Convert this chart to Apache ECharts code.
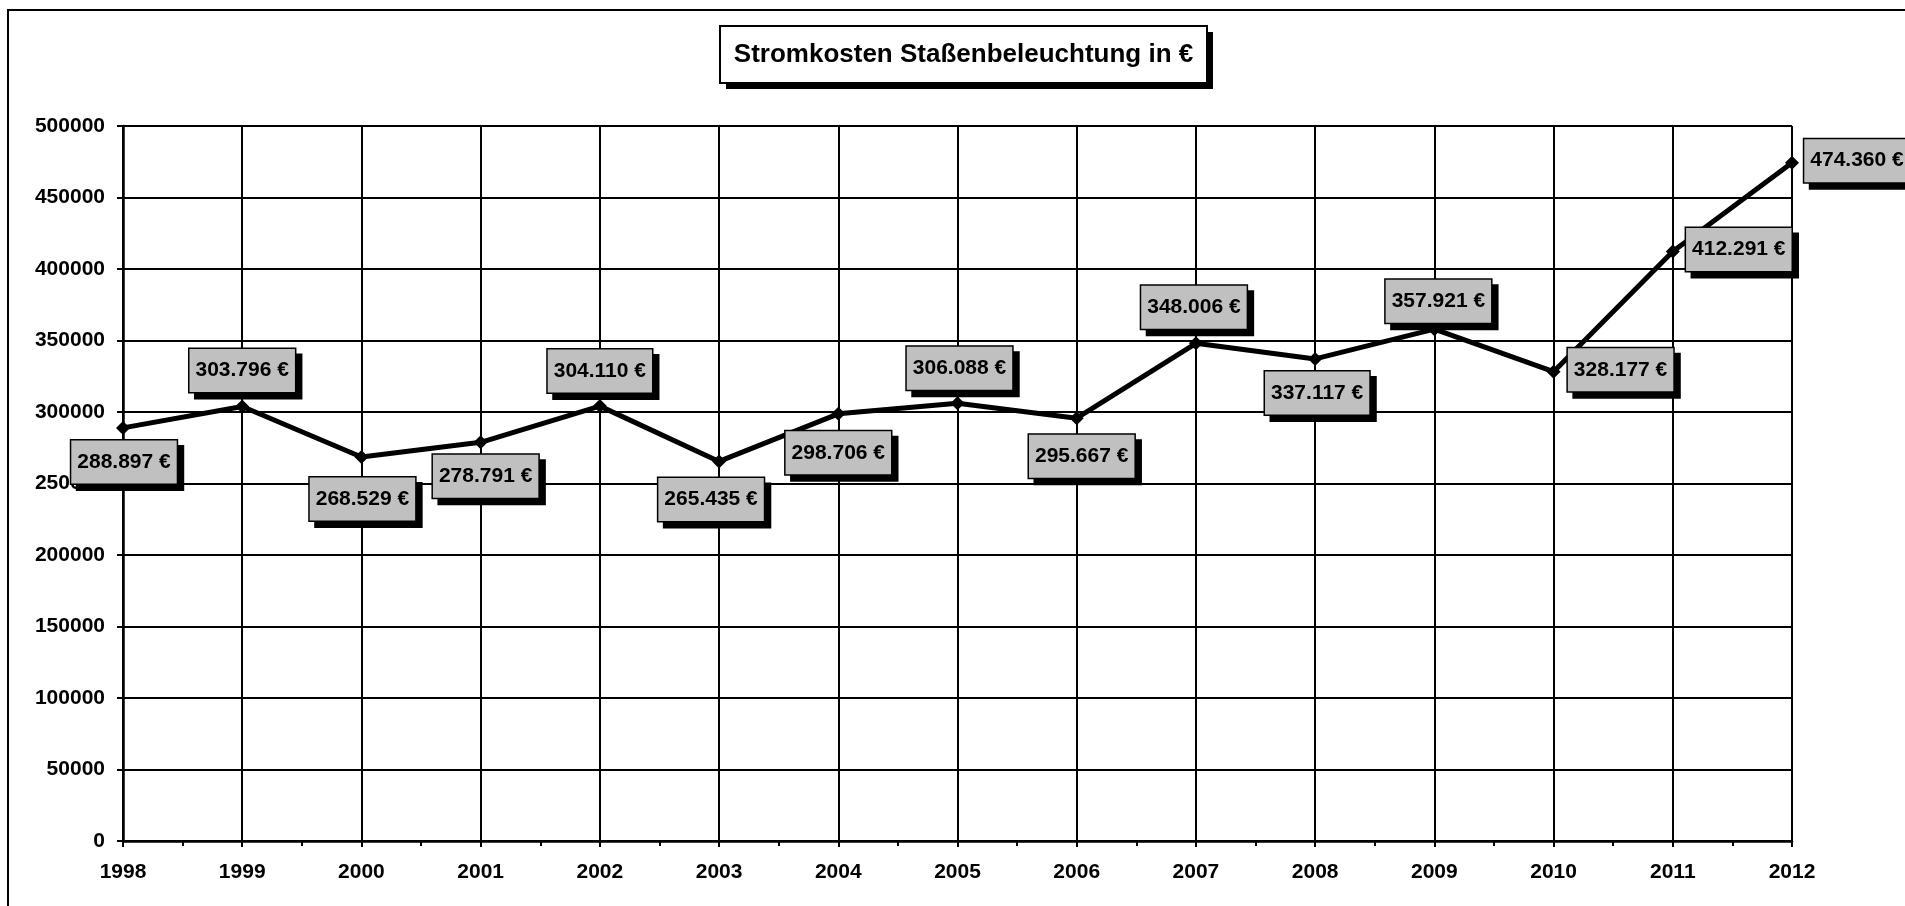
<!DOCTYPE html>
<html>
<head>
<meta charset="utf-8">
<title>Stromkosten Staßenbeleuchtung</title>
<script src="https://cdn.jsdelivr.net/npm/echarts@6/dist/echarts.min.js"></script>
<style>
  html, body { margin: 0; padding: 0; background: #fff; }
  #chart { width: 1905px; height: 906px; }
</style>
</head>
<body>
<div id="chart"></div>
<script>
// Annual electricity cost of street lighting (EUR)
const years = [1998, 1999, 2000, 2001, 2002, 2003, 2004, 2005, 2006, 2007, 2008, 2009, 2010, 2011, 2012];
const costs = [288897, 303796, 268529, 278791, 304110, 265435, 298706, 306088, 295667, 348006, 337117, 357921, 328177, 412291, 474360];
const titleText = 'Stromkosten Staßenbeleuchtung in €';

// Where each value box sits relative to its point (px)
const labelOffsets = [
  [1, 34], [0, -36], [1, 42], [5, 34], [0, -35], [-8, 38], [0, 39], [2, -35],
  [5, 38], [-2, -36], [2, 34], [4, -28], [67, -2], [66, -2], [65, -2]
];

const FONT = '"Liberation Sans", Arial, sans-serif';

function euro(v) {
  return String(v).replace(/\B(?=(\d{3})+(?!\d))/g, '.') + ' €';
}

const seriesData = years.map((y, i) => [y, costs[i]]);

const chart = echarts.init(document.getElementById('chart'), null, { renderer: 'canvas' });

// Title box: drop shadow, framed white box, bold caption
const titleBox = { x: 720, y: 26, w: 487, h: 57, shadow: 6 };

chart.setOption({
  backgroundColor: '#ffffff',
  animation: false,
  graphic: [{
    type: 'rect',
    silent: true,
    z: -1,
    shape: { x: 8, y: 10, width: 2000, height: 1000 },
    style: { fill: 'none', stroke: '#000000', lineWidth: 2 }
  }, {
    type: 'rect',
    silent: true,
    z: 10,
    shape: { x: titleBox.x + titleBox.shadow, y: titleBox.y + titleBox.shadow, width: titleBox.w, height: titleBox.h },
    style: { fill: '#000000' }
  }, {
    type: 'rect',
    silent: true,
    z: 11,
    shape: { x: titleBox.x, y: titleBox.y, width: titleBox.w, height: titleBox.h },
    style: { fill: '#ffffff', stroke: '#000000', lineWidth: 2 }
  }, {
    type: 'text',
    silent: true,
    z: 12,
    x: titleBox.x + titleBox.w / 2,
    y: titleBox.y + titleBox.h / 2,
    style: {
      text: titleText,
      fill: '#000000',
      font: 'bold 26px ' + FONT,
      align: 'center',
      verticalAlign: 'middle'
    }
  }],
  grid: { left: 123, right: 113, top: 126, bottom: 65, containLabel: false },
  xAxis: [{
    type: 'value',
    min: 1998,
    max: 2012,
    interval: 1,
    axisLine: { show: true, onZero: false, lineStyle: { color: '#000', width: 2.5 } },
    axisTick: { show: true, length: 6, lineStyle: { color: '#000', width: 2 } },
    minorTick: { show: true, splitNumber: 2, length: 5, lineStyle: { color: '#000', width: 2 } },
    splitLine: { show: true, lineStyle: { color: '#000', width: 2 } },
    axisLabel: {
      margin: 21,
      fontFamily: FONT,
      fontWeight: 'bold',
      fontSize: 21,
      color: '#000',
      formatter: v => String(v)
    }
  }, {
    type: 'value',
    min: 1998,
    max: 2012,
    interval: 1,
    position: 'bottom',
    axisLine: { show: false },
    axisTick: { show: false },
    minorTick: { show: true, splitNumber: 2, length: 4, lineStyle: { color: '#000', width: 2 } },
    splitLine: { show: false },
    axisLabel: { show: false }
  }],
  yAxis: {
    type: 'value',
    min: 0,
    max: 500000,
    interval: 50000,
    axisLine: { show: true, lineStyle: { color: '#000', width: 2.5 } },
    axisTick: { show: true, length: 6, lineStyle: { color: '#000', width: 2 } },
    splitLine: { show: true, lineStyle: { color: '#000', width: 2 } },
    axisLabel: {
      margin: 18,
      fontFamily: FONT,
      fontWeight: 'bold',
      fontSize: 21,
      color: '#000',
      formatter: v => String(v)
    }
  },
  series: [{
    type: 'line',
    xAxisIndex: 0,
    data: seriesData,
    symbol: 'diamond',
    symbolSize: 14,
    showAllSymbol: true,
    itemStyle: { color: '#000000' },
    lineStyle: { color: '#000000', width: 5 },
    label: {
      show: true,
      position: 'inside',
      formatter: p => euro(p.value[1]),
      fontFamily: FONT,
      fontWeight: 'bold',
      fontSize: 21,
      lineHeight: 25,
      color: '#000000',
      backgroundColor: '#c0c0c0',
      borderColor: '#000000',
      borderWidth: 1.5,
      padding: [9, 6, 9, 6],
      shadowColor: '#000000',
      shadowBlur: 0,
      shadowOffsetX: 6,
      shadowOffsetY: 6
    },
    labelLayout: p => ({
      dx: labelOffsets[p.dataIndex][0],
      dy: labelOffsets[p.dataIndex][1],
      hideOverlap: false
    }),
    emphasis: { disabled: true },
    z: 3
  }]
});
</script>
</body>
</html>
